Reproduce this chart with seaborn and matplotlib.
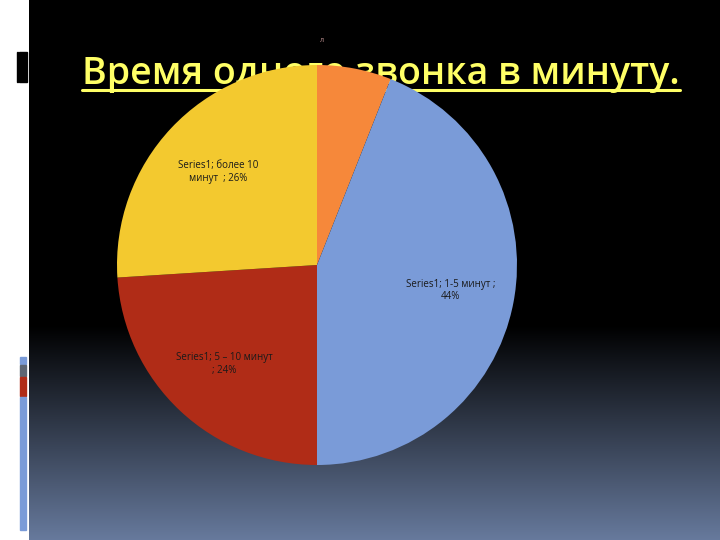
import numpy as np
import matplotlib
matplotlib.use("Agg")
import matplotlib.pyplot as plt
import seaborn as sns
from matplotlib.patches import Rectangle
from matplotlib.lines import Line2D

sns.set_theme(style="white")
plt.rcParams['font.family'] = ['Open Sans', 'DejaVu Sans']

# ---- data ----
categories = ["", "1-5 минут", "5 – 10 минут", "более 10 минут"]
shares = [6, 44, 24, 26]
series_name = "Series1"
label_texts = ["",
               "Series1; 1-5 минут ;\n44%",
               "Series1; 5 – 10 минут\n; 24%",
               "Series1; более 10\nминут  ; 26%"]
slice_colors = ["#F6883A", "#7A9BD8", "#B02C17", "#F3C92F"]
title_text = "Время одного звонка в минуту."

W, H = 720, 540
fig = plt.figure(figsize=(7.2, 5.4), dpi=100, facecolor="white")

# background: black panel with gradient to steel blue at bottom
bg = fig.add_axes([29 / W, 0, (W - 29) / W, 1], zorder=-5)
n = 540
rows = np.zeros((n, 3))
top_c = np.array([0, 0, 0]) / 255
bot_c = np.array([103, 122, 157]) / 255
start = 325
for i in range(n):
    t = 0 if i < start else (i - start) / (n - start)
    rows[i] = top_c + (bot_c - top_c) * t
grad = np.repeat(rows[:, None, :], 2, axis=1)
bg.imshow(grad, aspect="auto", extent=[0, 1, 0, 1], origin="upper")
bg.set_axis_off()

# left decorations
fig.patches.append(Rectangle((17 / W, 1 - 82 / H), 1 / W, 30 / H,
                             transform=fig.transFigure, color="black", zorder=1))
fig.patches.append(Rectangle((19 / W, 1 - 82 / H), 8 / W, 30 / H,
                             transform=fig.transFigure, color="black", zorder=1))
fig.patches.append(Rectangle((20 / W, 1 - 364 / H), 6 / W, 7 / H,
                             transform=fig.transFigure, color="#7A9BD8", zorder=1))
fig.patches.append(Rectangle((20 / W, 1 - 376 / H), 6 / W, 11 / H,
                             transform=fig.transFigure, color="#5E6673", zorder=1))
fig.patches.append(Rectangle((20 / W, 1 - 396 / H), 6 / W, 19 / H,
                             transform=fig.transFigure, color="#B02C17", zorder=1))
fig.patches.append(Rectangle((20 / W, 1 - 530 / H), 6 / W, 133 / H,
                             transform=fig.transFigure, color="#7A9BD8", zorder=1))

# title (behind the pie)
title = fig.text(381 / W, 1 - 74 / H, title_text, color="#FFFF66",
                 fontsize=27, fontweight="semibold", ha="center", va="center",
                 zorder=1)
fig.canvas.draw()
bb = title.get_window_extent(fig.canvas.get_renderer())
uy = 1 - 90 / H
fig.lines.append(Line2D([bb.x0 / W, bb.x1 / W], [uy, uy], transform=fig.transFigure,
                        color="#FFFF66", lw=2.2, zorder=1))

# small stray mark
fig.text(322 / W, 1 - 40 / H, "л", color="#C89898", fontsize=5,
         ha="center", va="center", zorder=1)

# pie
ax = fig.add_axes([117 / W, 1 - 465 / H, 400 / W, 400 / H], zorder=5)
ax.set_facecolor("none")
wedges, texts = ax.pie(shares, labels=label_texts, colors=slice_colors,
                       startangle=90, counterclock=False, labeldistance=0.68,
                       radius=1.0, wedgeprops=dict(linewidth=0))
for t in texts:
    t.set_ha("center")
    t.set_va("center")
    t.set_fontsize(7)
    t.set_color("#1a1a1a")
    t.set_multialignment("center")
ax.set_xlim(-1, 1)
ax.set_ylim(-1, 1)
ax.set_axis_off()

fig.savefig("out.png", dpi=100, facecolor="white")
